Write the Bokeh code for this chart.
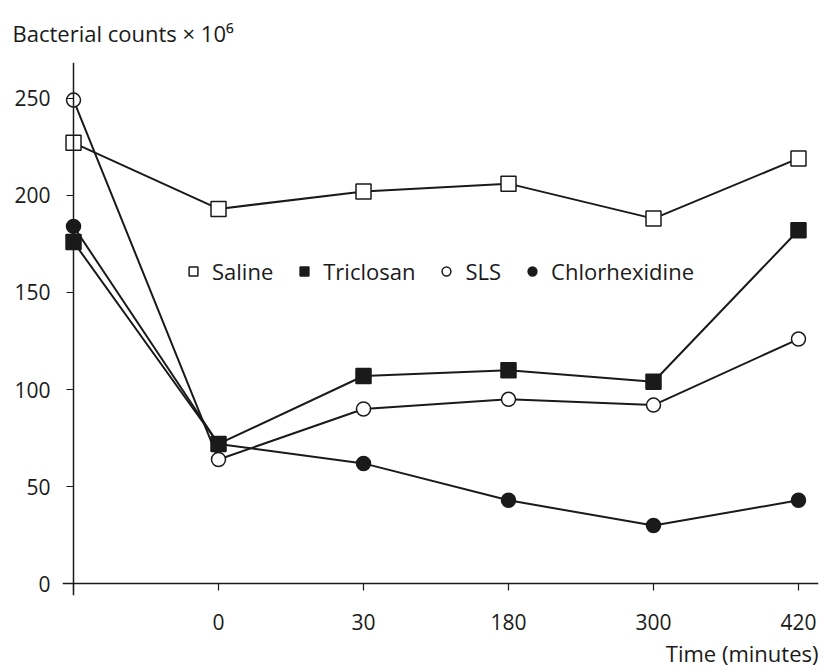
from bokeh.plotting import figure
from bokeh.models import Range1d, FixedTicker, Legend, LegendItem, LinearAxis, Title
from bokeh.embed import file_html
from bokeh.resources import INLINE

time_labels = ["", "0", "30", "180", "300", "420"]
positions = [0, 1, 2, 3, 4, 5]
y_ticks = [0, 50, 100, 150, 200, 250]
saline = [227, 193, 202, 206, 188, 219]
triclosan = [176, 72, 107, 110, 104, 182]
sls = [249, 64, 90, 95, 92, 126]
chlorhexidine = [184, 72, 62, 43, 30, 43]

FONT = "Open Sans"
INK = "#1a1a1a"
FS = "21px"

p = figure(width=821, height=670, output_backend="svg", toolbar_location=None,
           x_range=Range1d(-0.076, 5.138), y_range=Range1d(-6.0, 268.36),
           x_axis_location=None, y_axis_location=None,
           min_border_left=62, min_border_right=3, min_border_top=60, min_border_bottom=5)
p.outline_line_color = None
p.grid.grid_line_color = None
p.background_fill_color = "white"

# label-only axes in the side panels
xlab = LinearAxis(ticker=FixedTicker(ticks=positions),
                  major_label_overrides={i: t for i, t in zip(positions, time_labels)})
ylab = LinearAxis(ticker=FixedTicker(ticks=y_ticks))
for ax in (xlab, ylab):
    ax.axis_line_color = None
    ax.major_tick_line_color = None
    ax.minor_tick_line_color = None
    ax.major_tick_in = 0
    ax.major_tick_out = 0
    ax.major_label_text_font = FONT
    ax.major_label_text_font_size = FS
    ax.major_label_text_color = INK
xlab.major_label_standoff = 18
ylab.major_label_standoff = 12
p.add_layout(xlab, "below")
p.add_layout(ylab, "left")

# axis lines + ticks placed at data zero
xline = LinearAxis(ticker=FixedTicker(ticks=positions), fixed_location=0)
yline = LinearAxis(ticker=FixedTicker(ticks=y_ticks), fixed_location=0)
for ax in (xline, yline):
    ax.axis_line_color = INK
    ax.axis_line_width = 1.5
    ax.major_tick_line_color = INK
    ax.major_tick_line_width = 1.2
    ax.major_tick_in = 0
    ax.major_tick_out = 7
    ax.minor_tick_line_color = None
    ax.major_label_text_color = None
    ax.major_label_text_font_size = "1px"
p.add_layout(xline, "below")
p.add_layout(yline, "left")

series = [
    ("Saline", saline, "square", "white", 15),
    ("SLS", sls, "circle", "white", 14),
    ("Chlorhexidine", chlorhexidine, "circle", INK, 14),
    ("Triclosan", triclosan, "square", INK, 15),
]
marks = {}
for name, vals, marker, fill, size in series:
    p.line(positions, vals, line_color=INK, line_width=2)
for name, vals, marker, fill, size in series:
    r = p.scatter(positions, vals, marker=marker, size=size, fill_color=fill,
                  line_color=INK, line_width=1.5)
    marks[name] = r

legend = Legend(items=[LegendItem(label=n, renderers=[marks[n]]) for n in
                       ["Saline", "Triclosan", "SLS", "Chlorhexidine"]],
                orientation="horizontal", location=(120, 309),
                border_line_color=None, background_fill_alpha=0,
                label_text_font=FONT, label_text_font_size="22px", label_text_color=INK,
                glyph_width=22, glyph_height=22, spacing=20, label_standoff=8,
                padding=0, margin=0)
p.add_layout(legend)

top_title = Title(text="Bacterial counts × 10⁶", align="left", offset=-50,
                  text_font=FONT, text_font_size="22px", text_color=INK,
                  text_font_style="normal", standoff=30)
p.add_layout(top_title, "above")
bottom_title = Title(text="Time (minutes)", align="right",
                     text_font=FONT, text_font_size="22px", text_color=INK,
                     text_font_style="normal", standoff=6)
p.add_layout(bottom_title, "below")

open("out.html", "w").write(file_html(p, INLINE))
